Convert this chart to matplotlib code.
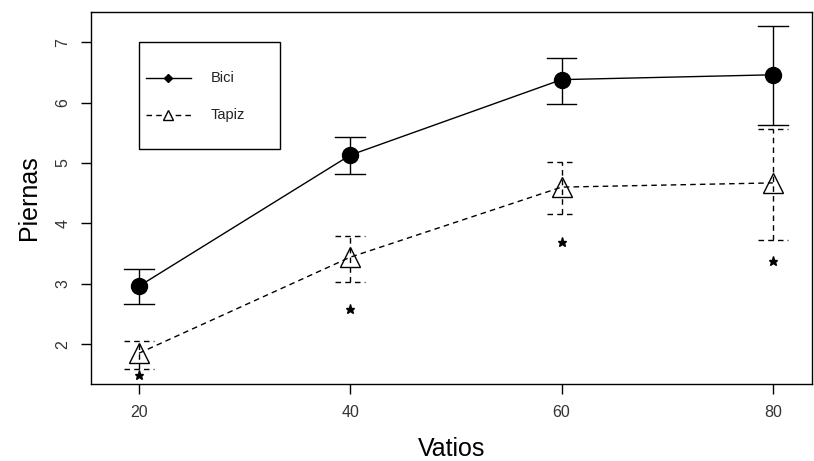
import matplotlib.pyplot as plt
from matplotlib.patches import Rectangle

plt.rcParams['font.family'] = ['Liberation Sans', 'DejaVu Sans']

vatios = [20, 40, 60, 80]
bici = [2.96, 5.13, 6.38, 6.46]
bici_lo = [2.66, 4.82, 5.98, 5.63]
bici_hi = [3.24, 5.43, 6.74, 7.26]
tapiz = [1.85, 3.44, 4.60, 4.67]
tapiz_lo = [1.59, 3.03, 4.16, 3.72]
tapiz_hi = [2.05, 3.79, 5.02, 5.57]
signif = [1.49, 2.58, 3.69, 3.38]
series = ['Bici', 'Tapiz']

dash = (0, (4, 3))

fig = plt.figure(figsize=(8.14, 4.61), dpi=100)
ax = fig.add_axes([0.1118, 0.167, 0.8857, 0.807])

# error bars first so the markers sit on top
ax.vlines(vatios, bici_lo, bici_hi, color='black', lw=1)
ax.vlines(vatios, tapiz_lo, tapiz_hi, color='black', lw=1, linestyles=dash)
for x, lo, hi in zip(vatios, bici_lo, bici_hi):
    ax.plot([x - 1.4, x + 1.4], [lo, lo], color='black', lw=1)
    ax.plot([x - 1.4, x + 1.4], [hi, hi], color='black', lw=1)
for x, lo, hi in zip(vatios, tapiz_lo, tapiz_hi):
    ax.plot([x - 1.4, x + 1.4], [lo, lo], color='black', lw=1, ls=dash)
    ax.plot([x - 1.4, x + 1.4], [hi, hi], color='black', lw=1, ls=dash)

ax.plot(vatios, bici, color='black', lw=1, marker='o', ms=11.5,
        markerfacecolor='black')
ax.plot(vatios, tapiz, color='black', lw=1, ls=dash, marker='^', ms=14,
        markerfacecolor='none', markeredgewidth=1)
ax.plot(vatios, signif, ls='none', marker='*', ms=6.5, color='black')

ax.set_xlim(15.46, 83.7)
ax.set_ylim(1.34, 7.5)
ax.set_xticks(vatios)
ax.set_yticks([2, 3, 4, 5, 6, 7])
ax.tick_params(axis='both', length=7, width=1, labelsize=11.5, colors='black',
               labelcolor='#333333', pad=8)
for lab in ax.get_yticklabels():
    lab.set_rotation(90)
    lab.set_va('center')
for s in ax.spines.values():
    s.set_linewidth(1)

ax.set_xlabel('Vatios', fontsize=18, labelpad=12)
ax.set_ylabel('Piernas', fontsize=18, labelpad=10)

# R-style legend box drawn by hand
ta = ax.transAxes
ax.add_patch(Rectangle((0.0666, 0.6317), 0.1955, 0.2877, transform=ta,
                       fill=False, edgecolor='black', lw=1, zorder=5))
ax.plot([0.0763, 0.1387], [0.8226, 0.8226], transform=ta, color='black', lw=1)
ax.plot([0.1068], [0.8226], transform=ta, marker='D', ms=4, color='black')
ax.plot([0.0763, 0.1387], [0.7231, 0.7231], transform=ta, color='black', lw=1,
        ls=dash)
ax.plot([0.1068], [0.7231], transform=ta, marker='^', ms=7, color='black',
        markerfacecolor='white')
for yy, name in zip([0.8226, 0.7231], series):
    ax.text(0.1664, yy, name, transform=ta, fontsize=10.5, va='center',
            ha='left', color='#222222')

fig.savefig('out.png', dpi=100)
